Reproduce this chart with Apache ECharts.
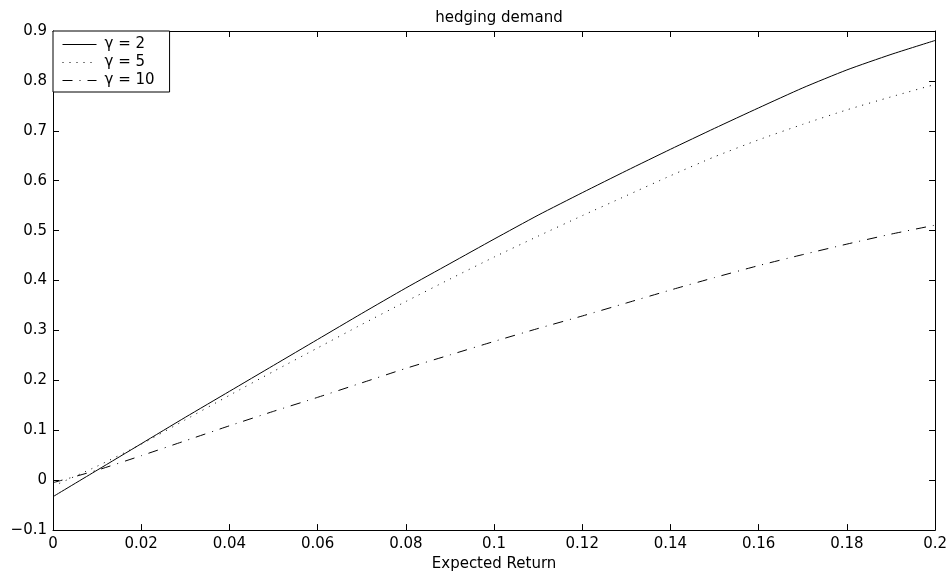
<!DOCTYPE html>
<html>
<head>
<meta charset="utf-8">
<title>hedging demand</title>
<script src="https://cdn.jsdelivr.net/npm/echarts@6/dist/echarts.min.js"></script>
<style>
  html, body { margin: 0; padding: 0; background: #fff; }
  #chart { width: 950px; height: 577px; }
</style>
</head>
<body>
<div id="chart"></div>
<script>
// expected return (x)
var returns = [0, 0.01, 0.02, 0.03, 0.04, 0.05, 0.06, 0.07, 0.08, 0.09, 0.10,
               0.11, 0.12, 0.13, 0.14, 0.15, 0.16, 0.17, 0.18, 0.19, 0.20];
// hedging demand
var gamma2  = [-0.033, 0.020, 0.073, 0.126, 0.178, 0.230, 0.282, 0.334, 0.385, 0.434, 0.483,
               0.531, 0.576, 0.620, 0.663, 0.705, 0.746, 0.786, 0.822, 0.853, 0.881];
var gamma5  = [-0.012, 0.028, 0.072, 0.121, 0.170, 0.218, 0.265, 0.312, 0.358, 0.403, 0.447,
               0.489, 0.530, 0.570, 0.610, 0.648, 0.682, 0.713, 0.742, 0.768, 0.793];
var gamma10 = [-0.005, 0.020, 0.049, 0.079, 0.109, 0.138, 0.166, 0.195, 0.224, 0.251, 0.278,
               0.304, 0.329, 0.355, 0.381, 0.406, 0.430, 0.452, 0.473, 0.493, 0.511];
var seriesNames = ['\u03b3 = 2', '\u03b3 = 5', '\u03b3 = 10'];

var FONT = 'DejaVu Sans';

function pairs(ys) {
	var out = [];
	for (var i = 0; i < returns.length; i++) {
		out.push([returns[i], ys[i]]);
	}
	return out;
}

function fmt(v) {
	var s = String(Math.round(v * 1000) / 1000);
	return s.replace('-', '\u2212');
}

var tickCommon = { show: true, inside: true, length: 6, lineStyle: { color: '#000', width: 1 } };
var lineCommon = { show: true, onZero: false, lineStyle: { color: '#000', width: 1 } };

var chart = echarts.init(document.getElementById('chart'));
chart.setOption({
	animation: false,
	backgroundColor: '#fff',
	title: {
		text: 'hedging demand',
		left: 494, top: 6, textAlign: 'center',
		textStyle: { fontFamily: FONT, fontSize: 15, fontWeight: 'normal', color: '#000' }
	},
	legend: {
		orient: 'vertical',
		left: 53, top: 31,
		data: seriesNames,
		itemWidth: 34, itemHeight: 14, itemGap: 3,
		padding: [6, 15, 4, 9],
		backgroundColor: '#fff',
		borderColor: '#000', borderWidth: 1, borderRadius: 0,
		itemStyle: { opacity: 0 },
		lineStyle: { width: 1 },
		textStyle: { fontFamily: FONT, fontSize: 15, color: '#000', padding: [0, 0, 0, 3] }
	},
	grid: { left: 53, right: 14, top: 31, bottom: 39 },
	xAxis: [{
		type: 'value', min: 0, max: 0.2, interval: 0.02, position: 'bottom',
		name: 'Expected Return', nameLocation: 'middle', nameGap: 22,
		nameTextStyle: { fontFamily: FONT, fontSize: 15, color: '#000' },
		axisLine: lineCommon, axisTick: tickCommon, splitLine: { show: false },
		axisLabel: { fontFamily: FONT, fontSize: 15, color: '#000', margin: 7, formatter: fmt }
	}, {
		type: 'value', min: 0, max: 0.2, interval: 0.02, position: 'top',
		axisLine: lineCommon, axisTick: tickCommon, splitLine: { show: false },
		axisLabel: { show: false }
	}],
	yAxis: [{
		type: 'value', min: -0.1, max: 0.9, interval: 0.1, position: 'left',
		axisLine: lineCommon, axisTick: tickCommon, splitLine: { show: false },
		axisLabel: { fontFamily: FONT, fontSize: 15, color: '#000', margin: 6, formatter: fmt }
	}, {
		type: 'value', min: -0.1, max: 0.9, interval: 0.1, position: 'right',
		axisLine: lineCommon, axisTick: tickCommon, splitLine: { show: false },
		axisLabel: { show: false }
	}],
	series: [{
		name: seriesNames[0], type: 'line', data: pairs(gamma2),
		showSymbol: false, symbol: 'none', smooth: 0.2,
		lineStyle: { color: '#000', width: 1, type: 'solid' },
		itemStyle: { color: '#000' }
	}, {
		name: seriesNames[1], type: 'line', data: pairs(gamma5),
		showSymbol: false, symbol: 'none', smooth: 0.2,
		lineStyle: { color: '#000', width: 1, type: [1, 6] },
		itemStyle: { color: '#000' }
	}, {
		name: seriesNames[2], type: 'line', data: pairs(gamma10),
		showSymbol: false, symbol: 'none', smooth: 0.2,
		lineStyle: { color: '#000', width: 1, type: [10, 7, 1, 7] },
		itemStyle: { color: '#000' }
	}]
});
</script>
</body>
</html>
